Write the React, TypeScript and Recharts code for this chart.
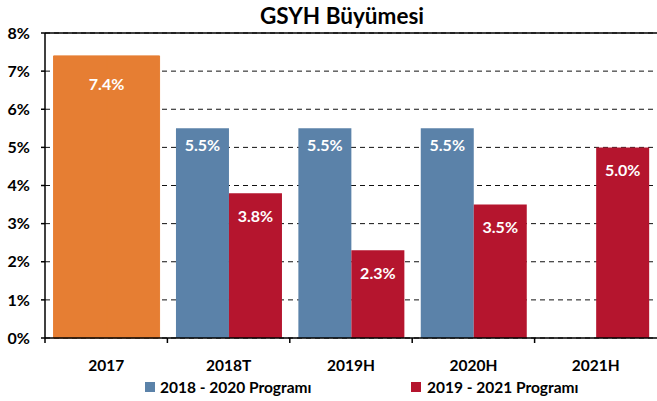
import { BarChart, Bar, XAxis, YAxis, CartesianGrid, Cell, LabelList, ReferenceLine } from "recharts"

const categories = ["2017", "2018T", "2019H", "2020H", "2021H"]
const actual = [7.4, null, null, null, null]
const program1820 = [null, 5.5, 5.5, 5.5, null]
const program1921 = [null, 3.8, 2.3, 3.5, 5.0]
const yTicks = [0, 1, 2, 3, 4, 5, 6, 7, 8]

const ORANGE = "#E67E33"
const BLUE = "#5B82A9"
const RED = "#B5152E"
const FONT = "Lato, 'Open Sans', sans-serif"

const data = categories.map((c, i) => ({
  name: c,
  p1820: actual[i] ?? program1820[i],
  p1921: actual[i] ?? program1921[i],
  isActual: actual[i] != null,
}))

function XTick(props: any) {
  const { x, y, payload } = props
  const half = payload?.offset ?? 61.2
  return (
    <g>
      <line x1={x - half} x2={x - half} y1={y} y2={y + 5} stroke="#000" strokeWidth={1.5} />
      <text x={x} y={y + 27} textAnchor="middle" dominantBaseline="central" fontFamily={FONT} fontWeight={700} fontSize={15.5} fill="#000">
        {payload.value}
      </text>
    </g>
  )
}

function makeLabel(series: "blue" | "red") {
  return (props: any) => {
    const { x, y, width, value, index } = props
    if (value == null) return null
    const isActual = data[index]?.isActual
    if (isActual && series === "red") return null
    const cx = isActual ? x + width : x + width / 2
    const dy = isActual ? 28 : series === "blue" ? 16 : 22
    return (
      <text x={cx} y={y + dy} textAnchor="middle" dominantBaseline="central" fontFamily={FONT} fontWeight={700} fontSize={16} fill="#fff">
        {Number(value).toFixed(1)}%
      </text>
    )
  }
}

export default function App() {
  return (
    <div style={{ position: "absolute", left: 0, top: 0, width: 657, height: 401, background: "#fff", fontFamily: FONT }}>
      <div style={{ position: "absolute", left: 0, top: 3, width: 684, textAlign: "center", fontSize: 22.5, fontWeight: 700, lineHeight: "26px" }}>
        GSYH Büyümesi
      </div>
      <BarChart width={657} height={401} data={data} margin={{ top: 33, right: 0, left: 0, bottom: 33 }} barCategoryGap="7%" barGap={0}>
        <CartesianGrid vertical={false} strokeDasharray="5 4" stroke="#111" />
        <ReferenceLine y={8} stroke="#000" strokeWidth={1.5} />
        <YAxis
          domain={[0, 8]}
          ticks={yTicks}
          width={45}
          tickFormatter={(v) => `${v}%`}
          tick={{ fontFamily: FONT, fontWeight: 700, fontSize: 16, fill: "#000" }}
          axisLine={{ stroke: "#000", strokeWidth: 1.5 }}
          tickLine={{ stroke: "#000", strokeWidth: 1.5 }}
          tickSize={4}
          tickMargin={11}
        />
        <XAxis
          dataKey="name"
          height={30}
          tick={<XTick />}
          tickLine={false}
          tickSize={0}
          tickMargin={0}
          axisLine={{ stroke: "#000", strokeWidth: 1.5 }}
        />
        <Bar dataKey="p1820" fill={BLUE} isAnimationActive={false}>
          {data.map((d, i) => (
            <Cell key={i} fill={d.isActual ? ORANGE : BLUE} stroke={d.isActual ? ORANGE : "none"} strokeWidth={1} />
          ))}
          <LabelList dataKey="p1820" content={makeLabel("blue")} />
        </Bar>
        <Bar dataKey="p1921" fill={RED} isAnimationActive={false}>
          {data.map((d, i) => (
            <Cell key={i} fill={d.isActual ? ORANGE : RED} stroke={d.isActual ? ORANGE : "none"} strokeWidth={1} />
          ))}
          <LabelList dataKey="p1921" content={makeLabel("red")} />
        </Bar>
      </BarChart>
      <div style={{ position: "absolute", left: 0, top: 377, width: 657, height: 20, fontSize: 15.5, fontWeight: 700, lineHeight: "20px" }}>
        <span style={{ position: "absolute", left: 145, top: 5, width: 10, height: 10, background: BLUE }} />
        <span style={{ position: "absolute", left: 160, top: 0, whiteSpace: "nowrap" }}>2018 - 2020 Programı</span>
        <span style={{ position: "absolute", left: 411, top: 5, width: 10, height: 10, background: RED }} />
        <span style={{ position: "absolute", left: 427, top: 0, whiteSpace: "nowrap" }}>2019 - 2021 Programı</span>
      </div>
    </div>
  )
}
